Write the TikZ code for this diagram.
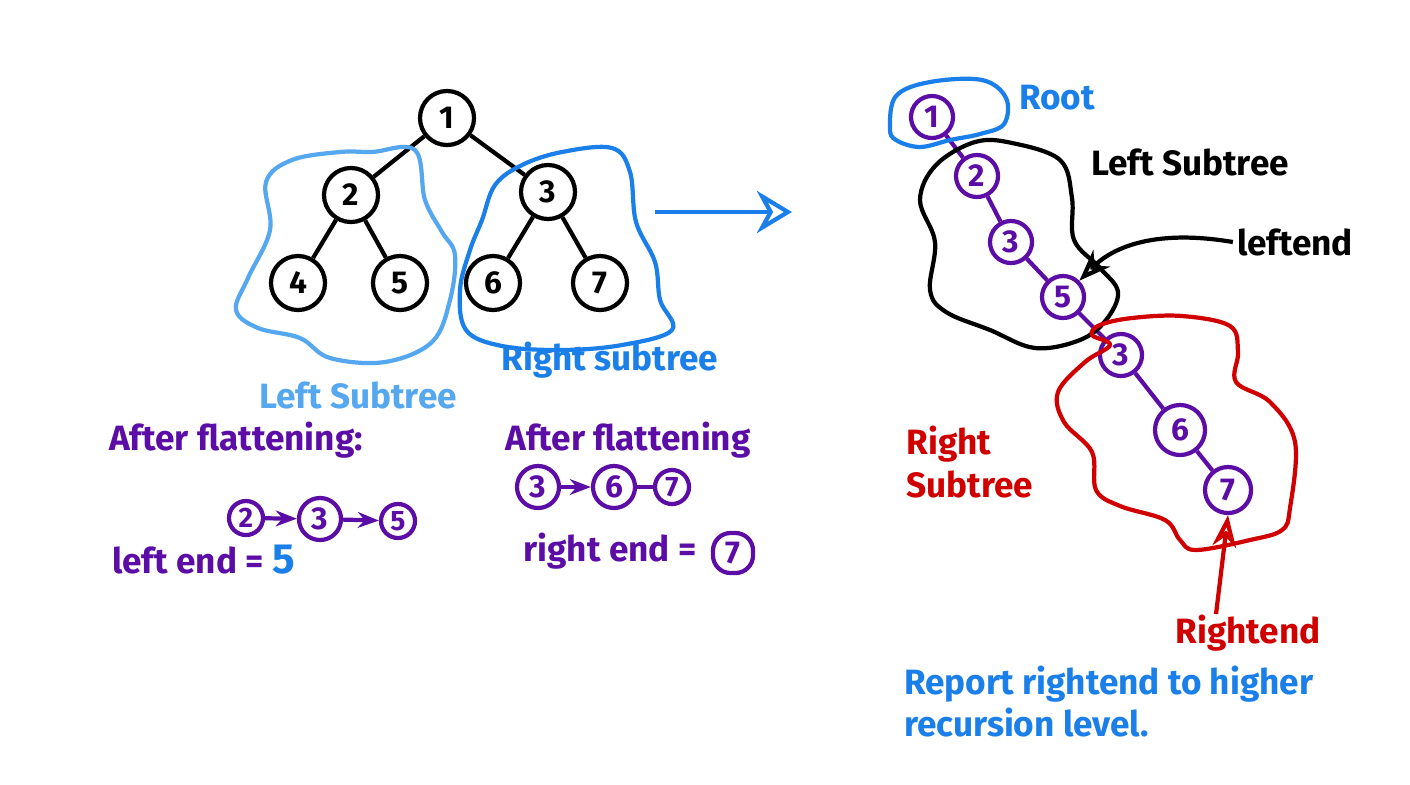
\documentclass[tikz,border=0pt]{standalone}
\usepackage{fontspec}
\setmainfont{Fira Sans}
\usetikzlibrary{arrows.meta}
\definecolor{ink}{HTML}{5B0DA6}
\definecolor{lblue}{HTML}{55A8F0}
\definecolor{dblue}{HTML}{1A7FE8}
\definecolor{rred}{HTML}{D00000}
\begin{document}
\begin{tikzpicture}[x=0.01cm,y=-0.01cm,
	tnode/.style={draw,circle,very thick,minimum size=0.54cm,inner sep=0pt,font=\bfseries\small},
	pnode/.style={draw=ink,text=ink,circle,very thick,minimum size=0.42cm,inner sep=0pt,font=\bfseries\small},
	snode/.style={pnode,minimum size=0.34cm,font=\bfseries\footnotesize},
	lbl/.style={font=\bfseries\fontsize{10}{12}\selectfont,inner sep=1pt},
	blob/.style={very thick,line join=round}]
	\useasboundingbox (0,0) rectangle (1410,784);
	
	% binary tree
	\node[tnode] (1) at (447,118) {1};
	\node[tnode] (2) at (351,195) {2};
	\node[tnode] (3) at (548,192) {3};
	\node[tnode] (4) at (298,283) {4};
	\node[tnode] (5) at (400,283) {5};
	\node[tnode] (6) at (493,283) {6};
	\node[tnode] (7) at (600,283) {7};
	
	\path[very thick] (1) edge (2) (1) edge (3);
	\path[very thick] (2) edge (4) (2) edge (5);
	\path[very thick] (3) edge (6) (3) edge (7);
	
	\draw[blob,lblue] plot[smooth cycle,tension=0.6] coordinates {(372,152) (415,150) (425,200) (442,232) (455,255) (450,300) (432,342) (385,362) (330,358) (300,338) (258,328) (236,310) (248,278) (270,230) (266,182) (292,160) (340,152)};
	\draw[blob,dblue] plot[smooth cycle,tension=0.6] coordinates {(495,185) (522,165) (562,152) (612,148) (630,172) (636,222) (655,262) (660,300) (672,330) (622,345) (562,350) (502,346) (466,330) (460,290) (470,250) (482,220)};
	
	\node[lbl,lblue] (lsub) at (358,395) {Left Subtree};
	\node[lbl,dblue] (rsub) at (610,360) {Right subtree};
	
	\coordinate (a0) at (655,212);
	\coordinate (a1) at (792,212);
	\draw[very thick,dblue,-{Stealth[length=10pt,width=12pt,open]}] (a0) -- (a1);
	
	% flattened left subtree
	\node[lbl,ink] (lflat) at (236,440) {After flattening:};
	\node[snode] (f2) at (246,518) {2};
	\node[pnode] (f3) at (320,519) {3};
	\node[snode] (f5) at (398,521) {5};
	\path[very thick,ink,-{Stealth[length=6pt]}] (f2) edge (f3) (f3) edge (f5);
	\node[lbl,ink,anchor=west] (lend) at (108,560) {left end = \textcolor{dblue}{\large 5}};
	
	% flattened right subtree
	\node[lbl,ink] (rflat) at (628,440) {After flattening};
	\node[pnode] (g3) at (538,487) {3};
	\node[pnode] (g6) at (614,487) {6};
	\node[snode] (g7) at (672,487) {7};
	\path[very thick,ink,-{Stealth[length=6pt]}] (g3) edge (g6);
	\path[very thick,ink] (g6) edge (g7);
	\node[lbl,ink] (rend) at (610,551) {right end =};
	\node[pnode,rounded corners=5pt,rectangle,minimum size=0.4cm] (b7) at (733,553) {7};
	
	% flattened whole tree
	\node[pnode] (c1) at (932,117) {1};
	\node[pnode] (c2) at (977,176) {2};
	\node[pnode] (c3) at (1011,242) {3};
	\node[pnode] (c5) at (1063,297) {5};
	\node[pnode] (c4) at (1121,355) {3};
	\node[pnode,minimum size=0.5cm] (c6) at (1180,430) {6};
	\node[pnode,minimum size=0.46cm] (c7) at (1228,490) {7};
	\path[very thick,ink] (c1) edge (c2) (c2) edge (c3) (c3) edge (c5) (c5) edge (c4) (c4) edge (c6) (c6) edge (c7);
	
	\draw[blob,dblue] plot[smooth cycle,tension=0.6] coordinates {(890,128) (896,96) (930,82) (982,80) (1006,98) (1004,124) (980,134) (950,140) (920,147) (896,140)};
	\node[lbl,dblue] (root) at (1057,98) {Root};
	
	\draw[blob] plot[smooth cycle,tension=0.6] coordinates {(975,142) (1012,143) (1060,160) (1072,198) (1074,240) (1100,268) (1118,292) (1106,320) (1080,340) (1035,348) (990,330) (946,312) (930,290) (935,242) (920,200) (936,165)};
	\node[lbl] (lt) at (1190,162) {Left Subtree};
	\node[lbl] (le) at (1295,242) {leftend};
	\draw[very thick,-{Stealth[length=9pt,open]}] (le.west) .. controls (1150,228) and (1110,250) .. (c5.north east);
	
	\draw[blob,rred] plot[smooth cycle,tension=0.6] coordinates {(1100,325) (1132,318) (1182,316) (1230,326) (1238,352) (1236,382) (1270,402) (1295,442) (1290,508) (1282,530) (1250,540) (1196,550) (1180,540) (1165,520) (1120,506) (1096,490) (1092,452) (1064,422) (1058,392) (1085,362) (1110,345) (1092,335)};
	\node[lbl,rred,align=left] (rt) at (970,462) {Right\\Subtree};
	\node[lbl,rred] (re) at (1248,633) {Rightend};
	\coordinate (re0) at (1216,614);
	\draw[very thick,rred,-{Stealth[length=9pt,open]}] (re0) -- (c7.south);
	
	\node[lbl,dblue,align=left,anchor=north west] (rep) at (900,662) {Report rightend to higher\\recursion level.};
\end{tikzpicture}
\end{document}
